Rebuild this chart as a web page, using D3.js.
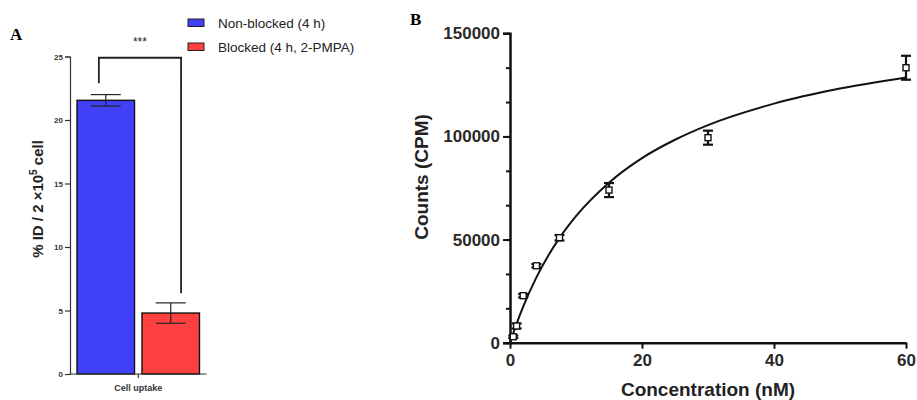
<!DOCTYPE html>
<html>
<head>
  <meta charset="UTF-8">
  <title>Cell uptake and saturation binding</title>
  <script src="https://d3js.org/d3.v7.min.js"></script>
  <style>
    body { margin: 0; background: #fff; }
    svg text { font-family: "Liberation Sans", Arial, sans-serif; }
  </style>
</head>
<body>
  <svg></svg>
  <script>
    // Panel A data
    let groups = ["Non-blocked (4 h)", "Blocked (4 h, 2-PMPA)"];
    let uptakeMean = [21.55, 4.8];
    let uptakeErr = [0.45, 0.8];
    let barColors = ["#4040f8", "#ff4040"];
    let ticksA = [0, 5, 10, 15, 20, 25];

    // Panel B data
    let concNM = [0.5, 1, 2, 4, 7.5, 15, 30, 60];
    let countsCPM = [2900, 8100, 22800, 37300, 50900, 74000, 99400, 133300];
    let countsErr = [600, 1200, 800, 800, 1300, 3400, 3400, 5800];
    // fitted curve
    let fitX = [0, 1, 2, 4, 7.5, 10, 15, 20, 25, 30, 40, 50, 60];
    let fitY = [0, 9250, 17500, 31650, 50800, 61400, 77600, 89500, 98400, 105500, 115900, 123200, 128600];
    let ticksBx = [0, 20, 40, 60];
    let ticksBy = [0, 50000, 100000, 150000];

    let width = 917, height = 400;
    let svg = d3.select("svg").attr("width", width).attr("height", height);

    // ---------- Panel A ----------
    let xA = d3.scaleBand().domain(groups).range([70, 206.5]).paddingInner(0.115).paddingOuter(0.108);
    let yA = d3.scaleLinear().domain([0, 25]).range([374, 56.5]);

    svg.append("text").attr("x", 10).attr("y", 40)
      .style("font-family", "'Liberation Serif', 'Times New Roman', serif")
      .style("font-weight", "bold").style("font-size", "17px").text("A");

    let gA = svg.append("g");

    gA.selectAll("rect.bar")
      .data(groups)
      .enter()
      .append("rect")
      .attr("class", "bar")
      .attr("x", d => xA(d))
      .attr("width", xA.bandwidth())
      .attr("y", (d, i) => yA(uptakeMean[i]))
      .attr("height", (d, i) => yA(0) - yA(uptakeMean[i]))
      .attr("fill", (d, i) => barColors[i])
      .attr("stroke", "#111")
      .attr("stroke-width", 1.4);

    // error bars
    groups.forEach((g, i) => {
      let cx = xA(g) + xA.bandwidth() / 2;
      let e = gA.append("g").attr("stroke", "#222").attr("stroke-width", 1.2);
      e.append("line").attr("x1", cx).attr("x2", cx)
        .attr("y1", yA(uptakeMean[i] + uptakeErr[i])).attr("y2", yA(uptakeMean[i] - uptakeErr[i]));
      [uptakeMean[i] + uptakeErr[i], uptakeMean[i] - uptakeErr[i]].forEach(v => {
        e.append("line").attr("x1", cx - 15).attr("x2", cx + 15).attr("y1", yA(v)).attr("y2", yA(v));
      });
    });

    // y axis
    let axA = gA.append("g").attr("transform", "translate(70,0)")
      .call(d3.axisLeft(yA).tickValues(ticksA).tickSize(5).tickPadding(2));
    axA.select(".domain").attr("stroke", "#333").attr("stroke-width", 1.2);
    axA.selectAll(".tick line").attr("stroke", "#333").attr("stroke-width", 1.2);
    axA.selectAll(".tick text").style("font-size", "8px").style("font-weight", "bold").attr("fill", "#333");

    // x axis baseline with centre tick
    let x0 = xA.range()[0], x1 = xA.range()[1];
    let xc = (x0 + x1) / 2;
    gA.append("line").attr("x1", x0).attr("x2", x1).attr("y1", yA(0)).attr("y2", yA(0))
      .attr("stroke", "#333").attr("stroke-width", 1.2);
    gA.append("line").attr("x1", xc).attr("x2", xc).attr("y1", yA(0)).attr("y2", yA(0) + 4)
      .attr("stroke", "#333").attr("stroke-width", 1.2);
    gA.append("text").attr("x", xc).attr("y", yA(0) + 17).attr("text-anchor", "middle")
      .style("font-size", "9px").style("font-weight", "bold").attr("fill", "#333").text("Cell uptake");

    // y label
    let yl = gA.append("text")
      .attr("transform", "translate(43,199) rotate(-90)")
      .attr("text-anchor", "middle")
      .style("font-size", "15px").style("font-weight", "bold").attr("fill", "#222");
    yl.append("tspan").text("% ID / 2 \u00d710");
    yl.append("tspan").attr("dy", -6).style("font-size", "10px").text("5");
    yl.append("tspan").attr("dy", 6).text(" cell");

    // significance bracket
    let bl = xA(groups[0]) + xA.bandwidth() * 0.38;
    let br = xA(groups[1]) + xA.bandwidth() * 0.68;
    gA.append("path")
      .attr("d", d3.line()([[bl, yA(22.9)], [bl, yA(24.9)], [br, yA(24.9)], [br, yA(6.35)]]))
      .attr("fill", "none").attr("stroke", "#222").attr("stroke-width", 1.8);
    gA.append("text").attr("x", (bl + br) / 2).attr("y", 46).attr("text-anchor", "middle")
      .style("font-size", "12px").attr("fill", "#222").text("***");

    // legend
    let leg = gA.append("g").selectAll("g").data(groups).enter().append("g")
      .attr("transform", (d, i) => "translate(188," + (19 + i * 24) + ")");
    leg.append("rect").attr("width", 16).attr("height", 7.5)
      .attr("fill", (d, i) => barColors[i]).attr("stroke", "#222").attr("stroke-width", 1);
    leg.append("text").attr("x", 30).attr("y", 8.5)
      .style("font-size", "13.5px").attr("fill", "#222").text(d => d);

    // ---------- Panel B ----------
    let xB = d3.scaleLinear().domain([0, 60]).range([510, 906]);
    let yB = d3.scaleLinear().domain([0, 150000]).range([342.7, 33.3]);

    svg.append("text").attr("x", 410).attr("y", 25)
      .style("font-family", "'Liberation Serif', 'Times New Roman', serif")
      .style("font-weight", "bold").style("font-size", "17px").text("B");

    let gB = svg.append("g");

    // minor y ticks
    gB.append("g").attr("transform", "translate(510,0)")
      .call(d3.axisLeft(yB).tickValues(d3.range(0, 150001, 50000 / 3)).tickSize(4).tickFormat(""))
      .call(g => g.select(".domain").remove())
      .selectAll("line").attr("stroke", "#111").attr("stroke-width", 2);

    let axBy = gB.append("g").attr("transform", "translate(510,0)")
      .call(d3.axisLeft(yB).tickValues(ticksBy).tickSize(7).tickPadding(3).tickFormat(d3.format("d")));
    axBy.select(".domain").attr("stroke", "#111").attr("stroke-width", 2.5);
    axBy.selectAll(".tick line").attr("stroke", "#111").attr("stroke-width", 2);
    axBy.selectAll(".tick text").style("font-size", "17px").style("font-weight", "bold").attr("fill", "#2a2a2a");

    let axBx = gB.append("g").attr("transform", "translate(0,342.7)")
      .call(d3.axisBottom(xB).tickValues(ticksBx).tickSize(6).tickPadding(5).tickSizeOuter(0));
    axBx.select(".domain").attr("stroke", "#111").attr("stroke-width", 2.5);
    axBx.selectAll(".tick line").attr("stroke", "#111").attr("stroke-width", 2);
    axBx.selectAll(".tick text").style("font-size", "17px").style("font-weight", "bold").attr("fill", "#2a2a2a");

    gB.append("text").attr("x", 708).attr("y", 396).attr("text-anchor", "middle")
      .style("font-size", "19px").style("font-weight", "bold").attr("fill", "#222")
      .text("Concentration (nM)");
    gB.append("text").attr("transform", "translate(428,177) rotate(-90)").attr("text-anchor", "middle")
      .style("font-size", "19px").style("font-weight", "bold").attr("fill", "#222")
      .text("Counts (CPM)");

    // fit curve
    gB.append("path")
      .datum(fitX.map((x, i) => [x, fitY[i]]))
      .attr("d", d3.line().x(d => xB(d[0])).y(d => yB(d[1])).curve(d3.curveMonotoneX))
      .attr("fill", "none").attr("stroke", "#111").attr("stroke-width", 2);

    // error bars
    concNM.forEach((c, i) => {
      let cx = xB(c);
      let e = gB.append("g").attr("stroke", "#111").attr("stroke-width", 2.2);
      e.append("line").attr("x1", cx).attr("x2", cx)
        .attr("y1", yB(countsCPM[i] + countsErr[i])).attr("y2", yB(countsCPM[i] - countsErr[i]));
      [countsCPM[i] + countsErr[i], countsCPM[i] - countsErr[i]].forEach(v => {
        e.append("line").attr("x1", cx - 5).attr("x2", cx + 5).attr("y1", yB(v)).attr("y2", yB(v));
      });
    });

    // points (open squares)
    gB.selectAll("rect.pt")
      .data(concNM)
      .enter()
      .append("rect")
      .attr("class", "pt")
      .attr("x", d => xB(d) - 3)
      .attr("y", (d, i) => yB(countsCPM[i]) - 3)
      .attr("width", 6).attr("height", 6)
      .attr("fill", "#fff").attr("stroke", "#111").attr("stroke-width", 1.4);
  </script>
</body>
</html>
